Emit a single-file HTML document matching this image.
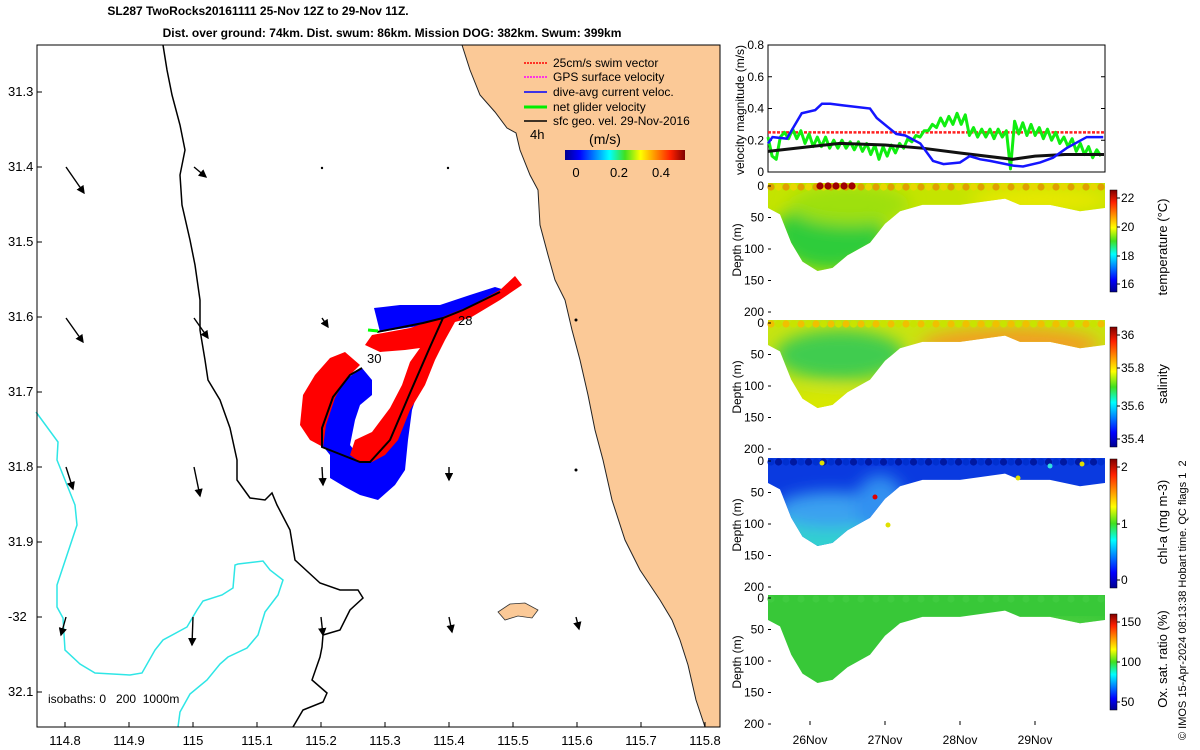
<!DOCTYPE html>
<html><head><meta charset="utf-8"><style>
html,body{margin:0;padding:0;background:#fff;}
svg{display:block;font-family:"Liberation Sans","DejaVu Sans",sans-serif;}
</style></head><body>
<svg id="fig" width="1200" height="750" viewBox="0 0 1200 750">
<defs>
 <linearGradient id="jetv" x1="0" y1="1" x2="0" y2="0">
  <stop offset="0" stop-color="#00008f"/><stop offset="0.12" stop-color="#0000ff"/><stop offset="0.37" stop-color="#00ffff"/><stop offset="0.5" stop-color="#40e020"/><stop offset="0.63" stop-color="#ffff00"/><stop offset="0.88" stop-color="#ff2000"/><stop offset="1" stop-color="#800000"/>
 </linearGradient>
 <linearGradient id="jeth" x1="0" y1="0" x2="1" y2="0">
  <stop offset="0" stop-color="#00008f"/><stop offset="0.12" stop-color="#0000ff"/><stop offset="0.37" stop-color="#00ffff"/><stop offset="0.5" stop-color="#40e020"/><stop offset="0.63" stop-color="#ffff00"/><stop offset="0.88" stop-color="#ff2000"/><stop offset="1" stop-color="#800000"/>
 </linearGradient>
 <filter id="blur8"><feGaussianBlur stdDeviation="8"/></filter>
 <marker id="ah" markerWidth="6" markerHeight="6" refX="5" refY="3" orient="auto"><path d="M0,0 L6,3 L0,6 z" fill="#000"/></marker>
</defs>

<text x="258" y="15" font-size="12" font-weight="bold" text-anchor="middle">SL287 TwoRocks20161111 25-Nov 12Z to 29-Nov 11Z.</text>
<text x="392" y="37" font-size="12" font-weight="bold" text-anchor="middle">Dist. over ground: 74km. Dist. swum: 86km. Mission DOG: 382km. Swum: 399km</text>

<g id="map">
 <rect x="37" y="45" width="683" height="682" fill="#fff"/>
 <path fill="#fbc997" d="M462,45 L470,70 L480,95 L495,112 L507,128 L516,133 L520,150 L530,175 L538,190 L540,225 L548,255 L555,280 L565,300 L572,330 L580,360 L588,395 L595,430 L603,460 L612,500 L625,540 L640,570 L660,600 L672,620 L680,640 L688,665 L696,700 L705,727 L720,727 L720,45 Z"/>
 <path fill="#fbc997" stroke="#333" stroke-width="0.8" d="M498,612 L510,604 L525,603 L538,610 L532,618 L518,616 L505,620 Z"/>
 <path fill="none" stroke="#222" stroke-width="1" d="M462,45 L470,70 L480,95 L495,112 L507,128 L516,133 L520,150 L530,175 L538,190 L540,225 L548,255 L555,280 L565,300 L572,330 L580,360 L588,395 L595,430 L603,460 L612,500 L625,540 L640,570 L660,600 L672,620 L680,640 L688,665 L696,700 L705,727"/>
 <path fill="none" stroke="#000" stroke-width="1.5" d="M163,45 L167,70 L172,95 L180,125 L185,150 L180,175 L182,205 L190,240 L195,265 L200,300 L200,330 L205,360 L208,380 L220,400 L230,428 L237,460 L237,480 L250,498 L265,500 L272,493 L277,505 L290,530 L295,560 L320,583 L340,590 L358,590 L363,598 L350,610 L340,630 L323,635 L322,647 L320,657 L312,680 L327,693 L323,702 L303,710 L293,727"/>
 <path fill="none" stroke="#2ee6e6" stroke-width="1.5" d="M36,412 L58,442 L57,460 L63,475 L75,505 L77,525 L67,555 L57,585 L57,607 L63,618 L65,650 L80,664 L95,673 L130,675 L142,673 L155,650 L163,640 L187,627 L197,610 L203,601 L222,595 L233,588 L235,565 L238,564 L263,561 L270,570 L283,580 L278,595 L265,612 L258,635 L247,648 L228,657 L220,664 L207,680 L190,694 L180,712 L178,727"/>
 <g stroke="#000" stroke-width="1.4" marker-end="url(#ah)">
  <line x1="66" y1="167" x2="84" y2="193"/><line x1="194" y1="167" x2="206" y2="177"/>
  <line x1="66" y1="318" x2="83" y2="342"/><line x1="194" y1="318" x2="208" y2="338"/><line x1="322" y1="318" x2="328" y2="327"/>
  <line x1="66" y1="467" x2="73" y2="489"/><line x1="194" y1="467" x2="200" y2="496"/><line x1="322" y1="467" x2="323" y2="485"/><line x1="449" y1="467" x2="449" y2="480"/>
  <line x1="66" y1="617" x2="61" y2="635"/><line x1="193" y1="617" x2="192" y2="645"/><line x1="321" y1="617" x2="323" y2="635"/><line x1="449" y1="617" x2="452" y2="632"/><line x1="576" y1="617" x2="579" y2="629"/>
 </g>
 <g fill="#000">
  <circle cx="322" cy="168" r="1.2"/><circle cx="448" cy="168" r="1.2"/><circle cx="576" cy="320" r="1.5"/><circle cx="576" cy="470" r="1.5"/>
 </g>
 <path fill="#0000ff" d="M374,308 L400,305 L440,305 L470,295 L495,287 L505,290 L470,312 L450,320 L435,345 L425,370 L412,410 L408,440 L405,470 L395,485 L378,500 L360,495 L345,487 L330,478 L330,455 L322,445 L325,425 L333,400 L345,380 L362,368 L372,380 L372,395 L360,405 L355,420 L350,445 L358,455 L380,440 L400,400 L420,355 L440,320 L425,325 L380,332 Z"/>
 <path fill="#ff0000" d="M365,345 L372,335 L410,328 L440,318 L470,306 L500,290 L515,276 L522,285 L500,300 L470,318 L455,322 L445,340 L435,360 L425,385 L410,410 L398,440 L385,455 L372,462 L360,462 L350,455 L355,440 L372,432 L390,408 L402,385 L410,362 L420,348 L405,350 L380,352 Z M300,425 L303,395 L315,375 L330,358 L345,352 L360,365 L345,380 L335,398 L326,425 L323,447 L310,440 Z"/>
 <path fill="none" stroke="#000" stroke-width="2" d="M377,332 L423,323 L443,318 L463,310 L500,292 M443,318 L430,347 L410,393 L390,440 L370,462 L360,462 L322,447 L322,428 L333,397 L350,375 L362,368"/>
 <line x1="368" y1="330" x2="378" y2="331" stroke="#00ff00" stroke-width="3"/>
 <text x="458" y="325" font-size="13">28</text>
 <text x="367" y="363" font-size="13">30</text>
 <g font-size="12">
  <line x1="547" y1="63" x2="524" y2="63" stroke="#ff0000" stroke-width="1.5" stroke-dasharray="2,1"/><text x="553" y="67">25cm/s swim vector</text>
  <line x1="547" y1="77" x2="524" y2="77" stroke="#ff00ff" stroke-width="1.5" stroke-dasharray="2,1"/><text x="553" y="81">GPS surface velocity</text>
  <line x1="547" y1="92" x2="524" y2="92" stroke="#0000ff" stroke-width="1.5"/><text x="553" y="96">dive-avg current veloc.</text>
  <line x1="547" y1="107" x2="524" y2="107" stroke="#00ee00" stroke-width="3"/><text x="553" y="111">net glider velocity</text>
  <line x1="547" y1="121" x2="524" y2="121" stroke="#000" stroke-width="1.5"/><text x="553" y="125">sfc geo. vel. 29-Nov-2016</text>
  <text x="530" y="139" font-size="13">4h</text>
  <text x="605" y="144" font-size="14" text-anchor="middle">(m/s)</text>
  <rect x="565" y="150" width="120" height="10" fill="url(#jeth)"/>
  <text x="576" y="177" text-anchor="middle" font-size="13">0</text><text x="619" y="177" text-anchor="middle" font-size="13">0.2</text><text x="661" y="177" text-anchor="middle" font-size="13">0.4</text>
 </g>
 <text x="48" y="703" font-size="12" xml:space="preserve">isobaths: 0   200  1000m</text>
 <rect x="37" y="45" width="683" height="682" fill="none" stroke="#000" stroke-width="1"/>
 <g id="mapticks" font-size="13"></g>
</g>

<g id="vel">
 <text transform="translate(744,110) rotate(-90)" font-size="12" text-anchor="middle">velocity magnitude (m/s)</text>
</g>
<g id="sections"></g>
<text transform="translate(1186,740) rotate(-90)" font-size="11" xml:space="preserve">© IMOS 15-Apr-2024 08:13:38 Hobart time. QC flags 1  2</text>
</svg>
<script>
const NS='http://www.w3.org/2000/svg';
function mk(tag,attrs,parent){const e=document.createElementNS(NS,tag);for(const k in attrs)e.setAttribute(k,attrs[k]);parent.appendChild(e);return e;}

const lonTicks=[114.8,114.9,115,115.1,115.2,115.3,115.4,115.5,115.6,115.7,115.8];
const lonLabels=['114.8','114.9','115','115.1','115.2','115.3','115.4','115.5','115.6','115.7','115.8'];
const latTicks=[31.3,31.4,31.5,31.6,31.7,31.8,31.9,32,32.1];
const latLabels=['31.3','31.4','31.5','31.6','31.7','31.8','31.9','-32','32.1'];
const lonX=v=>65+(v-114.8)*640;
const latY=v=>92+(v-31.3)*750;
const mt=document.getElementById('mapticks');
lonTicks.forEach((v,i)=>{const x=lonX(v);
 const l=mk('line',{x1:x,y1:727,x2:x,y2:722,stroke:'#000'},mt);
 
 
 const t=mk('text',{x:x,y:745,'text-anchor':'middle'},mt);t.textContent=lonLabels[i];
 
 
});
latTicks.forEach((v,i)=>{const y=latY(v);
 const l=mk('line',{x1:37,y1:y,x2:42,y2:y,stroke:'#000'},mt);
 
 
 const t=mk('text',{x:8,y:y+4},mt);t.textContent=latLabels[i];
 
 
});

const blueT=[25.44,25.5,25.69,25.89,26.07,26.16,26.27,26.44,26.8,26.89,27.15,27.27,27.47,27.64,27.78,28.0,28.13,28.27,28.4,28.71,28.84,29.07,29.24,29.42,29.69,29.91];
const blueV=[0.18,0.22,0.21,0.37,0.39,0.43,0.43,0.42,0.40,0.34,0.24,0.23,0.18,0.07,0.05,0.06,0.10,0.08,0.07,0.04,0.035,0.06,0.09,0.15,0.22,0.22];
const blackT=[25.44,26.0,26.4,27.0,27.5,28.0,28.7,29.0,29.4,29.92];
const blackV=[0.13,0.16,0.18,0.17,0.15,0.12,0.08,0.10,0.11,0.11];
const swimV=0.25;
const greenStart=25.44, greenStep=0.0548;
const greenV=[0.22,0.10,0.08,0.22,0.25,0.21,0.27,0.21,0.26,0.18,0.24,0.16,0.22,0.16,0.22,0.15,0.20,0.15,0.20,0.15,0.19,0.14,0.19,0.13,0.18,0.11,0.17,0.08,0.16,0.10,0.17,0.12,0.18,0.15,0.21,0.19,0.23,0.22,0.26,0.26,0.30,0.28,0.34,0.29,0.35,0.30,0.37,0.30,0.36,0.23,0.28,0.22,0.27,0.22,0.27,0.21,0.27,0.22,0.26,0.02,0.32,0.24,0.31,0.23,0.30,0.23,0.28,0.21,0.27,0.20,0.25,0.18,0.22,0.16,0.21,0.13,0.18,0.11,0.16,0.09,0.14,0.10];
const velTicks=[0,0.2,0.4,0.6,0.8];
const velLabels=['0','0.2','0.4','0.6','0.8'];
const dayTicks=[26,27,28,29];
const dayLabels=['26Nov','27Nov','28Nov','29Nov'];

const PX0=768, PX1=1105;
const tx=d=>810+(d-26)*75;
const vy=v=>172-v*158.75;
const vel=document.getElementById('vel');
mk('rect',{x:PX0,y:45,width:PX1-PX0,height:127,fill:'#fff',stroke:'#000'},vel);
velTicks.forEach((v,i)=>{const y=vy(v);
 mk('line',{x1:PX0,y1:y,x2:PX0+4,y2:y,stroke:'#000'},vel);
 mk('line',{x1:PX1,y1:y,x2:PX1-4,y2:y,stroke:'#000'},vel);
 const t=mk('text',{x:PX0-4,y:y+4,'font-size':12,'text-anchor':'end'},vel);t.textContent=velLabels[i];
 
 
});
function line(ts,vs,attrs,name){const p=mk('polyline',Object.assign({fill:'none'},attrs),vel);
 p.setAttribute('points',ts.map((t,i)=>tx(t)+','+vy(vs[i])).join(' '));
 
 
}
line([25.44,29.93],[swimV,swimV],{stroke:'#ff2020','stroke-width':2.5,'stroke-dasharray':'3,1.5'},'swim-speed-line');
line(greenV.map((v,i)=>greenStart+i*greenStep),greenV,{stroke:'#10ee10','stroke-width':3,'stroke-linejoin':'round'},'net-glider-speed-line');
line(blackT,blackV,{stroke:'#111','stroke-width':3},'geo-speed-line');
line(blueT,blueV,{stroke:'#1515ff','stroke-width':2.5},'current-speed-line');

const profT=[25.44,25.6,25.75,25.9,26.1,26.3,26.5,26.8,27.0,27.2,27.5,28.0,28.3,28.6,28.8,29.2,29.6,29.93];
const profD=[35,45,90,120,135,130,110,90,60,40,30,30,25,20,30,30,40,35];
const panels=[
 {top:183,name:'temperature',label:'temperature (°C)',ticks:[16,18,20,22],tickY:[284,256,227,198],base:'#c4e400',blobs:[[830,235,55,35,'#2ecc3a'],[850,205,60,20,'#9ee010'],[1040,200,70,12,'#e8e800']],dots:['#e8d800','#e0a000']},
 {top:320,name:'salinity',label:'salinity',ticks:[35.4,35.6,35.8,36],tickY:[439,406,368,335],base:'#c8e410',blobs:[[840,355,65,25,'#40cc50'],[1010,345,90,18,'#f0a020'],[830,410,50,20,'#d8e800']],dots:['#c8e400','#f0c000']},
 {top:458,name:'chl-a',label:'chl-a (mg m-3)',ticks:[0,1,2],tickY:[580,524,467],base:'#0a3ae0',blobs:[[830,535,60,30,'#30d0d0'],[830,510,55,18,'#3aa0f0'],[880,505,25,30,'#3090f0']],dots:['#0018a0','#0030d0']},
 {top:595,name:'oxygen',label:'Ox. sat. ratio (%)',ticks:[50,100,150],tickY:[702,662,622],base:'#38c838',blobs:[[1050,628,60,10,'#50d040']],dots:['#38c838','#40cc40']}
];
const sec=document.getElementById('sections');
panels.forEach((p,pi)=>{
 const g=mk('g',{},sec);
 
 
 const dy=d=>p.top+3+d*(126/200);
 const cid='clip'+pi;
 const cp=mk('clipPath',{id:cid},g);
 let d='M'+tx(profT[0])+','+p.top+' ';
 profT.forEach((t,i)=>{d+='L'+tx(t)+','+dy(profD[i])+' ';});
 d+='L'+PX1+','+dy(profD[profD.length-1])+' L'+PX1+','+p.top+' Z';
 mk('path',{d:d},cp);
 const fg=mk('g',{'clip-path':'url(#'+cid+')'},g);
 mk('rect',{x:PX0,y:p.top,width:PX1-PX0,height:140,fill:p.base},fg);
 const bg=mk('g',{filter:'url(#blur8)'},fg);
 p.blobs.forEach(b=>mk('ellipse',{cx:b[0],cy:b[1],rx:b[2],ry:b[3],fill:b[4]},bg));
 for(let x=PX0+3;x<PX1;x+=7.5){mk('circle',{cx:x,cy:p.top+4,r:3.6,fill:p.dots[Math.round(x/7.5)%2]},g);}
 if(pi===0){[820,828,836,844,852].forEach(x=>mk('circle',{cx:x,cy:p.top+3,r:3.6,fill:'#a00000'},g));}
 if(pi===2){[[822,463,'#e0e000'],[1018,478,'#e0e000'],[1050,466,'#30e0e0'],[1082,464,'#e0e000'],[875,497,'#e00000'],[888,525,'#e0e000']].forEach(c=>mk('circle',{cx:c[0],cy:c[1],r:2.5,fill:c[2]},g));}
 const ax=mk('g',{'font-size':12},g);
 [0,50,100,150,200].forEach(v=>{const y=dy(v);
  mk('line',{x1:PX0,y1:y,x2:PX0+3,y2:y,stroke:'#000'},ax);
  const t=mk('text',{x:PX0-4,y:y+4,'text-anchor':'end'},ax);t.textContent=String(v);
  
  
 });
 const yt=mk('text',{transform:'translate(741,'+(p.top+67)+') rotate(-90)','text-anchor':'middle'},ax);yt.textContent='Depth (m)';
 
 
 const cb=mk('rect',{x:1110,y:p.tickY[p.tickY.length-1]-8,width:7,height:(p.tickY[0]-p.tickY[p.tickY.length-1])+16,fill:'url(#jetv)',stroke:'#000','stroke-width':0.5},g);
 
 
 p.ticks.forEach((v,i)=>{mk('line',{x1:1117,y1:p.tickY[i],x2:1120,y2:p.tickY[i],stroke:'#000'},g);
  const t=mk('text',{x:1121,y:p.tickY[i]+4,'font-size':12},g);t.textContent=String(v);
  
  });
 const cl=mk('text',{transform:'translate(1167,'+(p.top+64)+') rotate(-90)','text-anchor':'middle','font-size':13},g);cl.textContent=p.label;
 
 
});
dayTicks.forEach((d,i)=>{const x=tx(d);
 mk('line',{x1:x,y1:725,x2:x,y2:721,stroke:'#000'},sec);
 const t=mk('text',{x:x,y:744,'font-size':12,'text-anchor':'middle'},sec);t.textContent=dayLabels[i];
 
 
});
</script>
</body></html>
